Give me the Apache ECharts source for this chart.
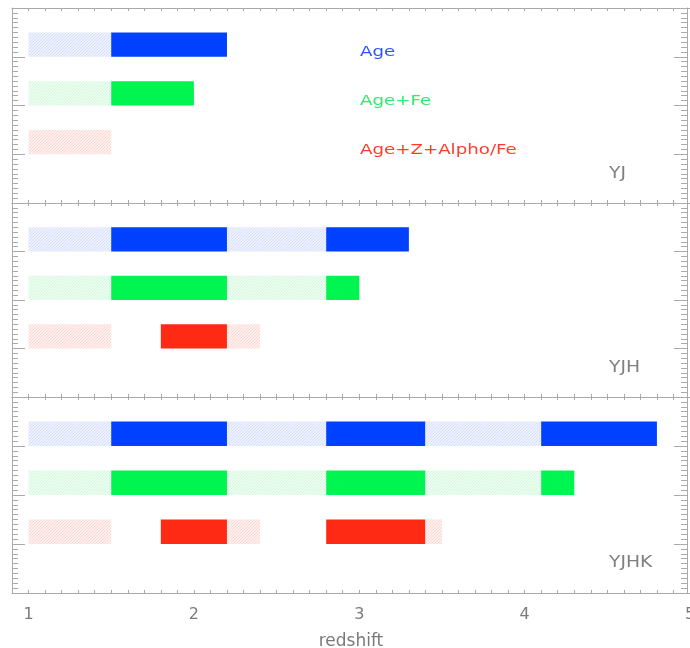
<!DOCTYPE html>
<html>
<head>
<meta charset="utf-8">
<script src="https://cdn.jsdelivr.net/npm/echarts@6/dist/echarts.min.js"></script>
<style>html,body{margin:0;padding:0;background:#fff}#c{width:690px;height:648px}</style>
</head>
<body>
<div id="c"></div>
<script>
// ---- data ----
const xMin = 0.9, xMax = 5;
const panelNames = ['YJ', 'YJH', 'YJHK'];
const rowNames = ['Age', 'Age+Fe', 'Age+Z+Alpho/Fe'];
const rowLevels = [3, 2, 1];            // y level (bottom edge) of each row
// segments: [start z, end z, 'h' = hatched / 's' = solid]
const yjAge     = [[1.0, 1.5, 'h'], [1.5, 2.2, 's']];
const yjAgeFe   = [[1.0, 1.5, 'h'], [1.5, 2.0, 's']];
const yjAgeZ    = [[1.0, 1.5, 'h']];
const yjhAge    = [[1.0, 1.5, 'h'], [1.5, 2.2, 's'], [2.2, 2.8, 'h'], [2.8, 3.3, 's']];
const yjhAgeFe  = [[1.0, 1.5, 'h'], [1.5, 2.2, 's'], [2.2, 2.8, 'h'], [2.8, 3.0, 's']];
const yjhAgeZ   = [[1.0, 1.5, 'h'], [1.8, 2.2, 's'], [2.2, 2.4, 'h']];
const yjhkAge   = [[1.0, 1.5, 'h'], [1.5, 2.2, 's'], [2.2, 2.8, 'h'], [2.8, 3.4, 's'], [3.4, 4.1, 'h'], [4.1, 4.8, 's']];
const yjhkAgeFe = [[1.0, 1.5, 'h'], [1.5, 2.2, 's'], [2.2, 2.8, 'h'], [2.8, 3.4, 's'], [3.4, 4.1, 'h'], [4.1, 4.3, 's']];
const yjhkAgeZ  = [[1.0, 1.5, 'h'], [1.8, 2.2, 's'], [2.2, 2.4, 'h'], [2.8, 3.4, 's'], [3.4, 3.5, 'h']];
const panelData = [
  [yjAge, yjAgeFe, yjAgeZ],
  [yjhAge, yjhAgeFe, yjhAgeZ],
  [yjhkAge, yjhkAgeFe, yjhkAgeZ]
];

// ---- style ----
const solidColors = ['#0040ff', '#00f550', '#ff2a14'];
const textColors  = ['#2f55ff', '#35ea6a', '#ff3d2d'];
const hatchBase   = ['#eef1fe', '#edfdf1', '#fef0ee'];
const hatchLine   = ['#d6defc', '#d2f8dc', '#fcd6d0'];
const frame = '#aaaaaa';
const gridTops = [8, 203, 397];
const gridHeights = [195, 194, 196];
const barHeight = 0.5;

function hatch(base, line) {
  const c = document.createElement('canvas');
  c.width = 3; c.height = 3;
  const g = c.getContext('2d');
  g.fillStyle = base; g.fillRect(0, 0, 3, 3);
  g.fillStyle = line;
  g.fillRect(0, 2, 1, 1); g.fillRect(1, 1, 1, 1); g.fillRect(2, 0, 1, 1);
  return c;
}
const patterns = hatchBase.map((b, i) => ({ image: hatch(b, hatchLine[i]), repeat: 'repeat' }));

const grids = [], xAxes = [], yAxes = [], series = [];
const intLabel = v => Math.abs(v - Math.round(v)) < 1e-6 ? String(Math.round(v)) : '';

panelNames.forEach((pn, i) => {
  grids.push({ left: 12, width: 678, top: gridTops[i], height: gridHeights[i], containLabel: false, outerBoundsMode: 'none' });
  const last = i === panelNames.length - 1;
  const baseX = {
    gridIndex: i, type: 'value', min: xMin, max: xMax, interval: 0.1,
    axisLine: { show: true, onZero: false, lineStyle: { color: frame, width: 1 } },
    axisTick: { show: true, inside: true, length: 3, lineStyle: { color: frame } },
    splitLine: { show: false }
  };
  xAxes.push(Object.assign({}, baseX, {
    position: 'bottom',
    axisLabel: { show: last, formatter: intLabel, color: '#7a7a7a', fontSize: 16, margin: 14, fontFamily: 'DejaVu Sans', hideOverlap: false },
    name: last ? 'redshift' : '', nameLocation: 'middle', nameGap: 40,
    nameTextStyle: { color: '#7a7a7a', fontSize: 17, fontFamily: 'DejaVu Sans' }
  }));
  xAxes.push(Object.assign({}, baseX, { position: 'top', axisLabel: { show: false } }));
  const baseY = {
    gridIndex: i, type: 'value', min: 0, max: 4, interval: 1,
    axisLine: { show: true, onZero: false, lineStyle: { color: frame, width: 1 } },
    axisTick: { show: true, inside: true, length: 13, lineStyle: { color: frame } },
    minorTick: { show: true, splitNumber: 10, length: 6, lineStyle: { color: frame } },
    axisLabel: { show: false }, splitLine: { show: false }, minorSplitLine: { show: false }
  };
  yAxes.push(Object.assign({}, baseY, { position: 'left' }));
  yAxes.push(Object.assign({}, baseY, { position: 'right', offset: -3 }));

  panelData[i].forEach((segs, r) => {
    series.push({
      type: 'custom',
      name: pn + ' ' + rowNames[r],
      xAxisIndex: i * 2, yAxisIndex: i * 2,
      encode: { x: [0, 1], y: 2 },
      data: segs.map(s => [s[0], s[1], rowLevels[r]]),
      silent: true,
      renderItem: (params, api) => {
        const kind = segs[params.dataIndex][2];
        const p0 = api.coord([api.value(0), api.value(2) + barHeight]);
        const p1 = api.coord([api.value(1), api.value(2)]);
        return {
          type: 'rect',
          shape: { x: p0[0], y: p0[1], width: p1[0] - p0[0], height: p1[1] - p0[1] },
          style: { fill: kind === 's' ? solidColors[r] : patterns[r], stroke: null }
        };
      }
    });
  });
});

const graphics = [];
rowNames.forEach((t, r) => {
  graphics.push({
    type: 'text', x: 360, y: 52 + r * 49, scaleX: 1.3,
    style: { text: t, fill: textColors[r], font: '14px "DejaVu Sans"', textVerticalAlign: 'middle', verticalAlign: 'middle' },
    silent: true
  });
});
const labelY = [174, 368, 563];
panelNames.forEach((t, i) => {
  graphics.push({
    type: 'text', x: 609, y: labelY[i], scaleX: 1.25,
    style: { text: t, fill: '#808080', font: '15px "DejaVu Sans"', textVerticalAlign: 'middle', verticalAlign: 'middle' },
    silent: true
  });
});

const chart = echarts.init(document.getElementById('c'), null, { renderer: 'canvas' });
chart.setOption({
  animation: false,
  backgroundColor: '#ffffff',
  grid: grids,
  xAxis: xAxes,
  yAxis: yAxes,
  series: series,
  graphic: graphics
});
</script>
</body>
</html>
